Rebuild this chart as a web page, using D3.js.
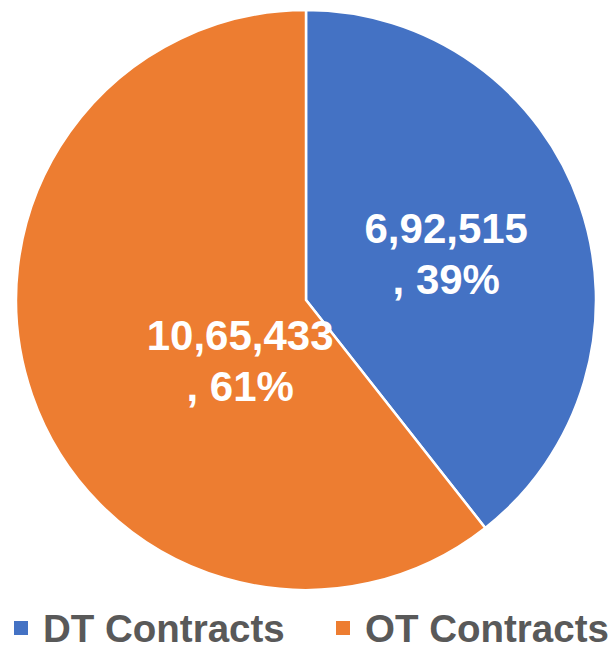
<!DOCTYPE html>
<html>
<head>
<meta charset="utf-8">
<script src="https://cdn.jsdelivr.net/npm/d3@7"></script>
<style>
  html, body { margin: 0; padding: 0; background: #ffffff; }
  svg { display: block; }
</style>
</head>
<body>
<svg id="chart" width="609" height="650"></svg>
<script>
// Contract counts by type
const categories = ["DT Contracts", "OT Contracts"];
const values = [692515, 1065433];
const valueLabels = ["6,92,515", "10,65,433"];
const percentLabels = [", 39%", ", 61%"];
const colors = ["#4472C4", "#ED7D31"];

const svg = d3.select("#chart");
const cx = 306, cy = 300, radius = 290;

const pie = d3.pie().sort(null).value(d => d)(values);
const arc = d3.arc().innerRadius(0).outerRadius(radius);

const g = svg.append("g").attr("transform", `translate(${cx},${cy})`);

g.selectAll("path.slice")
  .data(pie)
  .join("path")
  .attr("class", "slice")
  .attr("d", arc)
  .attr("fill", (d, i) => colors[i])
  .attr("stroke", "#ffffff")
  .attr("stroke-width", 2.5)
  .attr("stroke-linejoin", "round");

// Data labels: placed along each slice at a fraction of the radius,
// the larger slice's label pulled in toward the centre
const labelPlace = [
  { angleShift: 0.01, frac: 0.51 },
  { angleShift: -0.405, frac: 0.307 }
];
const labels = g.selectAll("text.dl")
  .data(pie)
  .join("text")
  .attr("class", "dl")
  .attr("text-anchor", "middle")
  .attr("font-family", "Liberation Sans, Arial, sans-serif")
  .attr("font-weight", "bold")
  .attr("font-size", 42)
  .attr("fill", "#ffffff")
  .attr("transform", (d, i) => {
    const a = (d.startAngle + d.endAngle) / 2 + labelPlace[i].angleShift;
    const r = radius * labelPlace[i].frac;
    return `translate(${r * Math.sin(a)},${-r * Math.cos(a)})`;
  });
labels.append("tspan")
  .attr("x", 0).attr("dy", "-0.24em")
  .text((d, i) => valueLabels[i]);
labels.append("tspan")
  .attr("x", 0).attr("dy", "1.21em")
  .text((d, i) => percentLabels[i]);

// Legend
const legendX = d3.scalePoint().domain(categories).range([14, 336]);
const legend = svg.append("g").attr("transform", "translate(0,642)");
const items = legend.selectAll("g.item")
  .data(categories)
  .join("g")
  .attr("class", "item")
  .attr("transform", d => `translate(${legendX(d)},0)`);
items.append("rect")
  .attr("x", 0).attr("y", -21)
  .attr("width", 14).attr("height", 14)
  .attr("fill", (d, i) => colors[i]);
items.append("text")
  .attr("x", 29)
  .attr("font-family", "Liberation Sans, Arial, sans-serif")
  .attr("font-weight", "bold")
  .attr("font-size", 38.5)
  .attr("fill", "#595959")
  .text(d => d);
</script>
</body>
</html>
